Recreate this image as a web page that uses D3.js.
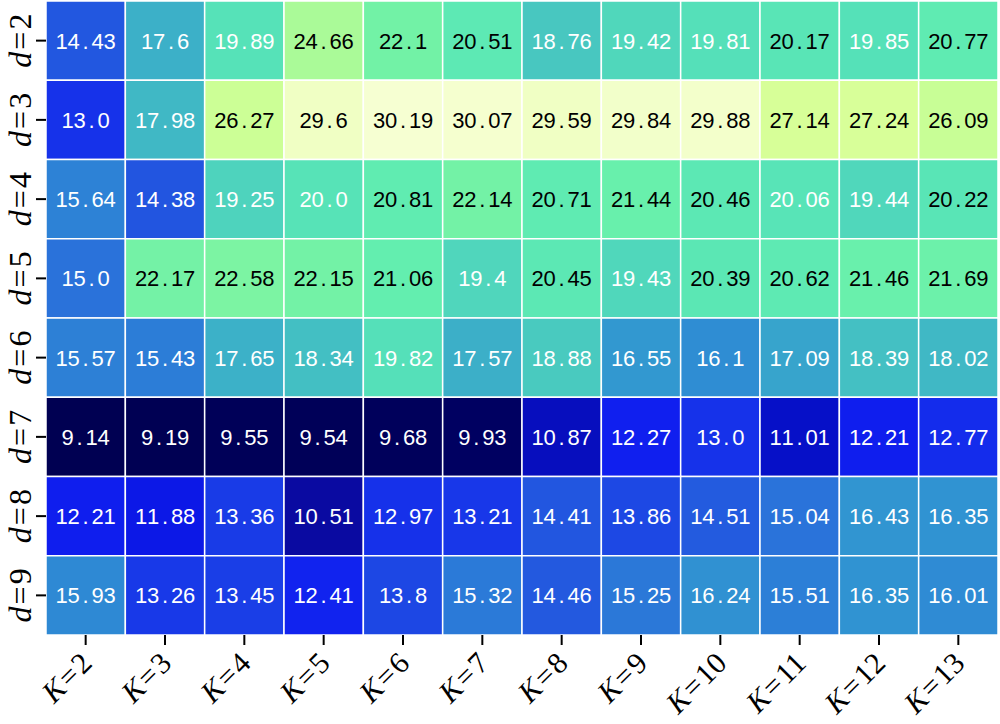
<!DOCTYPE html>
<html>
<head>
<meta charset="utf-8">
<script src="https://cdn.jsdelivr.net/npm/d3@7"></script>
<style>
  html, body { margin: 0; padding: 0; background: #ffffff; }
  svg { display: block; }
</style>
</head>
<body>
<svg id="chart" width="1000" height="724"></svg>
<script>
// ---- data ----
const kLabels = ["2", "3", "4", "5", "6", "7", "8", "9", "10", "11", "12", "13"];
const dLabels = ["2", "3", "4", "5", "6", "7", "8", "9"];
const row_d2 = [14.43, 17.6, 19.89, 24.66, 22.1, 20.51, 18.76, 19.42, 19.81, 20.17, 19.85, 20.77];
const row_d3 = [13.0, 17.98, 26.27, 29.6, 30.19, 30.07, 29.59, 29.84, 29.88, 27.14, 27.24, 26.09];
const row_d4 = [15.64, 14.38, 19.25, 20.0, 20.81, 22.14, 20.71, 21.44, 20.46, 20.06, 19.44, 20.22];
const row_d5 = [15.0, 22.17, 22.58, 22.15, 21.06, 19.4, 20.45, 19.43, 20.39, 20.62, 21.46, 21.69];
const row_d6 = [15.57, 15.43, 17.65, 18.34, 19.82, 17.57, 18.88, 16.55, 16.1, 17.09, 18.39, 18.02];
const row_d7 = [9.14, 9.19, 9.55, 9.54, 9.68, 9.93, 10.87, 12.27, 13.0, 11.01, 12.21, 12.77];
const row_d8 = [12.21, 11.88, 13.36, 10.51, 12.97, 13.21, 14.41, 13.86, 14.51, 15.04, 16.43, 16.35];
const row_d9 = [15.93, 13.26, 13.45, 12.41, 13.8, 15.32, 14.46, 15.25, 16.24, 15.51, 16.35, 16.01];
const rows = [row_d2, row_d3, row_d4, row_d5, row_d6, row_d7, row_d8, row_d9];

// colour ramp (value stops -> colours)
const colorStops = [9.14, 9.9, 10.5, 11.0, 11.9, 12.3, 13.0, 14.4, 15.0, 16.3, 17.6, 18.8, 19.9, 21.0, 22.1, 24.66, 26.27, 27.2, 29.6, 30.19];
const colorValues = ["#000052", "#00005e", "#0a0aa0", "#0610c8", "#0c18e8", "#1020f0", "#1632ea", "#2256e0", "#2a72da", "#3092d2", "#3cb0c8", "#48c8c0", "#56e2b8", "#62eeb0", "#72f2a6", "#aafa98", "#ccff96", "#d8ff98", "#f0ffc4", "#f6ffd2"];

const textThreshold = 20.1;

// ---- layout ----
const svg = d3.select("#chart");
const plotLeft = 46, plotRight = 998, plotTop = 1, plotBottom = 635;

const x = d3.scaleBand().domain(kLabels).range([plotLeft, plotRight]).padding(0);
const y = d3.scaleBand().domain(dLabels).range([plotTop, plotBottom]).padding(0);
const color = d3.scaleLinear().domain(colorStops).range(colorValues).interpolate(d3.interpolateRgb).clamp(true);

const cells = [];
rows.forEach((r, i) => r.forEach((v, j) => cells.push({ d: dLabels[i], k: kLabels[j], v })));

const fmt = v => (Number.isInteger(v) ? v.toFixed(1) : String(v));

svg.append("g").selectAll("rect").data(cells).join("rect")
  .attr("x", c => x(c.k))
  .attr("y", c => y(c.d))
  .attr("width", x.bandwidth())
  .attr("height", y.bandwidth())
  .attr("fill", c => color(c.v))
  .attr("stroke", "#ffffff")
  .attr("stroke-width", 1.5);

// annotations, fixed-pitch characters
const pitch = 12;
const ann = svg.append("g")
  .attr("font-family", "'Liberation Sans', Arial, sans-serif")
  .attr("font-size", 22);
cells.forEach(c => {
  const s = fmt(c.v);
  const cx = x(c.k) + x.bandwidth() / 2;
  const cy = y(c.d) + y.bandwidth() / 2 + 8;
  const t = ann.append("text")
    .attr("fill", c.v > textThreshold ? "#000000" : "#ffffff")
    .attr("text-anchor", "middle");
  s.split("").forEach((ch, i) => {
    t.append("tspan")
      .attr("x", cx + (i - (s.length - 1) / 2) * pitch)
      .attr("y", cy)
      .text(ch);
  });
});

// x axis ticks + labels
const xAxisG = svg.append("g");
kLabels.forEach(k => {
  const cx = x(k) + x.bandwidth() / 2;
  xAxisG.append("line")
    .attr("x1", cx).attr("x2", cx)
    .attr("y1", plotBottom).attr("y2", plotBottom + 10)
    .attr("stroke", "#000").attr("stroke-width", 2);
  const t = xAxisG.append("text")
    .attr("transform", `translate(${cx + 8},${plotBottom + 30}) rotate(-45)`)
    .attr("text-anchor", "end")
    .attr("font-family", "'Liberation Serif', 'Times New Roman', serif")
    .attr("font-size", 30)
    .attr("fill", "#000");
  t.append("tspan").attr("font-style", "italic").text("K");
  t.append("tspan").attr("dx", 2).text("=");
  t.append("tspan").attr("dx", 2).text(k);
});

// y axis ticks + labels
const yAxisG = svg.append("g");
dLabels.forEach(d => {
  const cy = y(d) + y.bandwidth() / 2;
  yAxisG.append("line")
    .attr("x1", plotLeft - 10).attr("x2", plotLeft)
    .attr("y1", cy).attr("y2", cy)
    .attr("stroke", "#000").attr("stroke-width", 2);
  const t = yAxisG.append("text")
    .attr("transform", `translate(${31},${cy}) rotate(-90)`)
    .attr("text-anchor", "middle")
    .attr("font-family", "'Liberation Serif', 'Times New Roman', serif")
    .attr("font-size", 32)
    .attr("fill", "#000");
  t.append("tspan").attr("font-style", "italic").text("d");
  t.append("tspan").attr("dx", 2).text("=");
  t.append("tspan").attr("dx", 2).text(d);
});
</script>
</body>
</html>
